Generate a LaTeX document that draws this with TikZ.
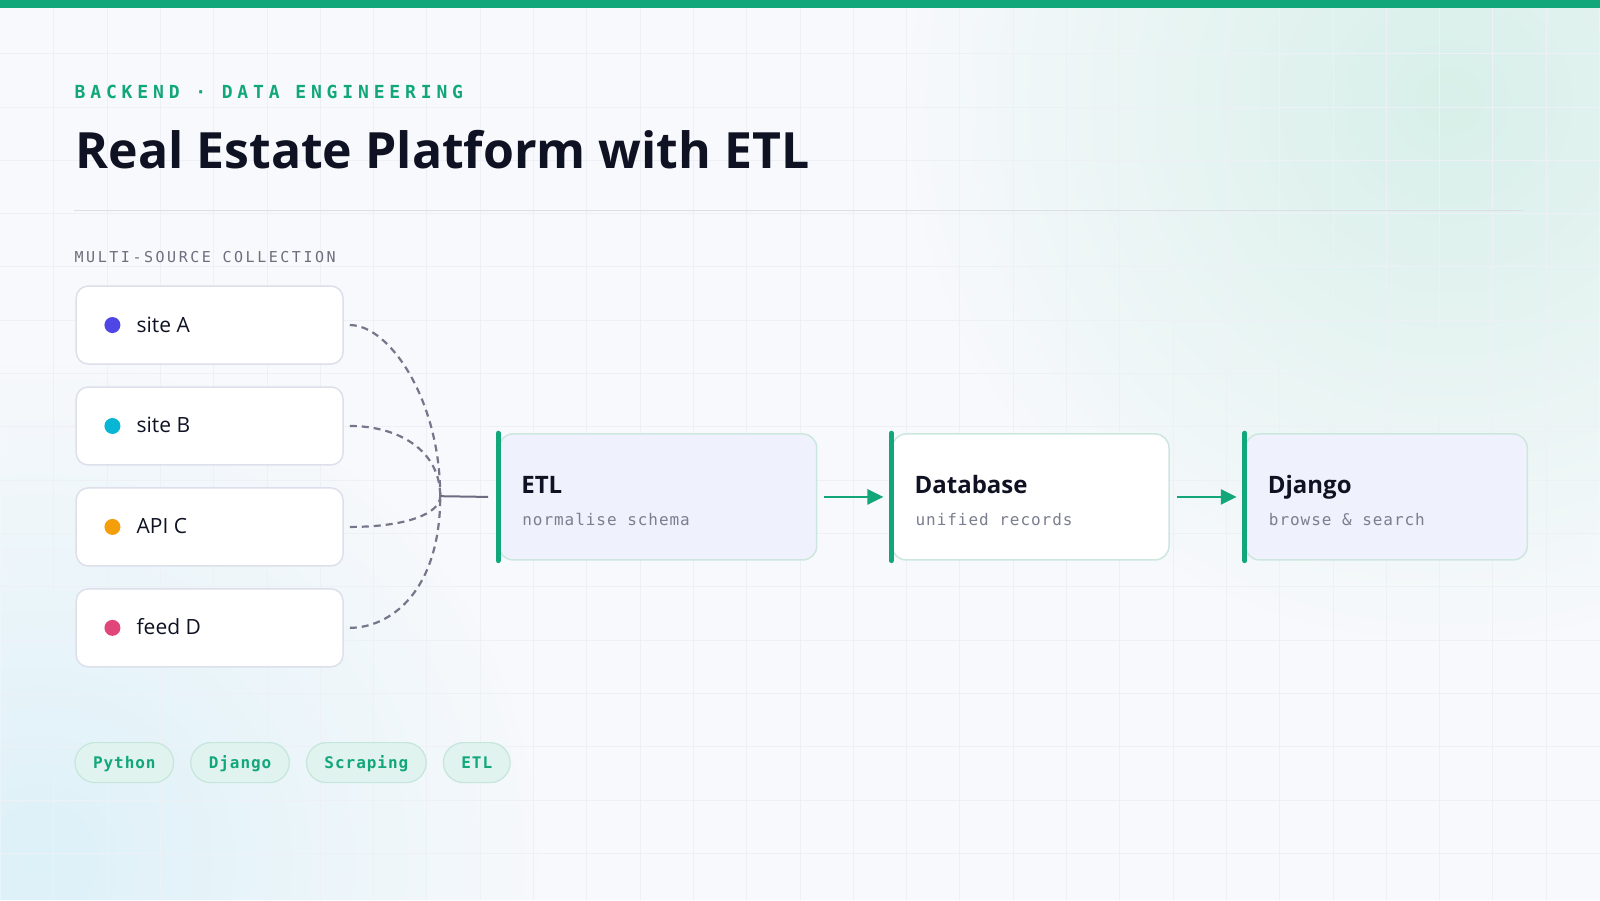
\documentclass[tikz,border=0pt]{standalone}
\usepackage{fontspec}
\IfFontExistsTF{Noto Sans Bold}
  {\setmainfont{Noto Sans}[BoldFont={Noto Sans Bold}]}
  {\setmainfont{Open Sans}}
\newfontfamily\codefont[LetterSpace=6]{DejaVu Sans Mono}
\newfontfamily\kickerfont[LetterSpace=27]{DejaVu Sans Mono}
\newfontfamily\labelfont[LetterSpace=17]{DejaVu Sans Mono}
\usetikzlibrary{positioning,arrows.meta,calc,fadings}
\definecolor{pagebg}{HTML}{F7F9FC}
\definecolor{gridcol}{HTML}{EDF0F5}
\definecolor{glowteal}{HTML}{D8F0E9}
\definecolor{glowcyan}{HTML}{DDF1F8}
\definecolor{brandgreen}{HTML}{12A77B}
\definecolor{inkdark}{HTML}{0F1222}
\definecolor{mutedgray}{HTML}{7B7E8E}
\definecolor{labelgray}{HTML}{6B6E7C}
\definecolor{rulegray}{HTML}{DCDFE6}
\definecolor{srcborder}{HTML}{DDE0EA}
\definecolor{stageborder}{HTML}{CDE7DF}
\definecolor{stagefill}{HTML}{EFF2FC}
\definecolor{dashgray}{HTML}{75768A}
\definecolor{joingray}{HTML}{6C6D80}
\definecolor{tagfill}{HTML}{E0F3EE}
\definecolor{tagborder}{HTML}{C5E6DB}
\definecolor{dotA}{HTML}{4F46E5}
\definecolor{dotB}{HTML}{06B6D4}
\definecolor{dotC}{HTML}{F59E0B}
\definecolor{dotD}{HTML}{E0467A}
\tikzfading[name=glowfade,inner color=transparent!0,outer color=transparent!100]

\begin{document}
\begin{tikzpicture}[x=1pt,y=-1pt,
  srcbox/.style={draw=srcborder,line width=1.5pt,fill=white,rounded corners=12pt,
    minimum width=267pt,minimum height=78pt,inner sep=0pt,anchor=north west},
  srctext/.style={inner sep=0pt,anchor=base west,text=inkdark,font=\fontsize{21}{23}\selectfont},
  feed/.style={dashgray,line width=2.2pt,dash pattern=on 7pt off 5pt},
  stagebox/.style={draw=stageborder,line width=1.5pt,rounded corners=14pt,
    minimum height=126pt,inner sep=0pt},
  stagebar/.style={brandgreen,line width=5pt,line cap=round},
  stagetitle/.style={inner sep=0pt,anchor=base west,text=inkdark,font=\bfseries\fontsize{24}{26}\selectfont},
  stagesub/.style={inner sep=0pt,anchor=base west,text=mutedgray,font=\codefont\fontsize{16}{18}\selectfont},
  flow/.style={brandgreen,line width=2.5pt,-{Triangle[length=16pt,width=15pt]}},
  tag/.style={draw=tagborder,line width=1.2pt,fill=tagfill,rounded corners=20pt,
    minimum height=40pt,inner xsep=18pt,inner ysep=0pt,text height=11.7pt,text depth=0pt,
    text=brandgreen,font=\codefont\bfseries\fontsize{16}{18}\selectfont}]

  % background, glows and grid
  \fill[pagebg] (0,0) rectangle (1600,900);
  \begin{scope}
    \clip (0,0) rectangle (1600,900);
    \fill[glowteal,path fading=glowfade] (1450,100) circle (540);
    \fill[glowcyan,path fading=glowfade] (40,860) circle (500);
  \end{scope}
  \foreach \gx in {1,...,29}
    \draw[gridcol,line width=1pt] (\gx*53.333,0) -- (\gx*53.333,900);
  \foreach \gy in {1,...,16}
    \draw[gridcol,line width=1pt] (0,\gy*53.333) -- (1600,\gy*53.333);
  \fill[brandgreen] (0,0) rectangle (1600,8);

  % heading
  \node[inner sep=0pt,anchor=base west,text=brandgreen,font=\kickerfont\bfseries\fontsize{18}{20}\selectfont]
    (kicker) at (74,98) {BACKEND · DATA ENGINEERING};
  \node[inner sep=0pt,anchor=base west,text=inkdark,font=\bfseries\fontsize{50}{54}\selectfont]
    (title) at (75,168) {Real Estate Platform with ETL};
  \draw[rulegray,line width=1.5pt] (74,210) -- (1524,210);
  \node[inner sep=0pt,anchor=base west,text=labelgray,font=\labelfont\fontsize{15}{17}\selectfont]
    (srchead) at (74,262) {MULTI-SOURCE COLLECTION};

  % sources
  \foreach \name/\lbl/\col [count=\i from 0] in {siteA/site A/dotA,siteB/site B/dotB,apiC/API C/dotC,feedD/feed D/dotD}{
    \node[srcbox] (\name) at (75,285+101*\i) {};
    \fill[\col] ([xshift=37pt]\name.west) circle (8);
    \node[srctext] (\name-txt) at ([xshift=61pt,yshift=-7pt]\name.west) {\lbl};
  }

  % pipeline stages
  \node[stagebox,fill=stagefill,minimum width=318pt,anchor=north west] (etl) at (498,433) {};
  \node[stagebox,fill=white,minimum width=277pt,right=74pt of etl] (db) {};
  \node[stagebox,fill=stagefill,minimum width=282pt,right=75pt of db] (django) {};
  \foreach \stg/\ttl/\sub in {etl/ETL/normalise schema,db/Database/unified records,django/Django/browse \& search}{
    \draw[stagebar] (\stg.north west) -- (\stg.south west);
    \node[stagetitle] (\stg-title) at ([xshift=23pt,yshift=3pt]\stg.west) {\ttl};
    \node[stagesub] (\stg-sub) at ([xshift=24pt,yshift=-29pt]\stg.west) {\sub};
  }

  % connectors
  \coordinate (merge) at (440,496);
  \draw[feed] ([xshift=6pt]siteA.east) .. controls +(40,0) and +(0,-96) .. (merge);
  \draw[feed] ([xshift=6pt]siteB.east) .. controls +(50,0) and +(0,-45) .. (merge);
  \draw[feed] ([xshift=6pt]apiC.east) .. controls +(55,0) and +(0,18) .. (merge);
  \draw[feed] ([xshift=6pt]feedD.east) .. controls +(40,0) and +(0,96) .. (merge);
  \draw[joingray,line width=2pt] (merge) -- ([xshift=-10pt]etl.west);
  \draw[flow] ([xshift=7pt]etl.east) -- ([xshift=-8pt]db.west);
  \draw[flow] ([xshift=7pt]db.east) -- ([xshift=-8pt]django.west);

  % tags
  \node[tag,anchor=north west] (tagPython) at (74,742) {Python};
  \node[tag,right=16pt of tagPython] (tagDjango) {Django};
  \node[tag,right=16pt of tagDjango] (tagScraping) {Scraping};
  \node[tag,right=16pt of tagScraping] (tagETL) {ETL};
\end{tikzpicture}
\end{document}
